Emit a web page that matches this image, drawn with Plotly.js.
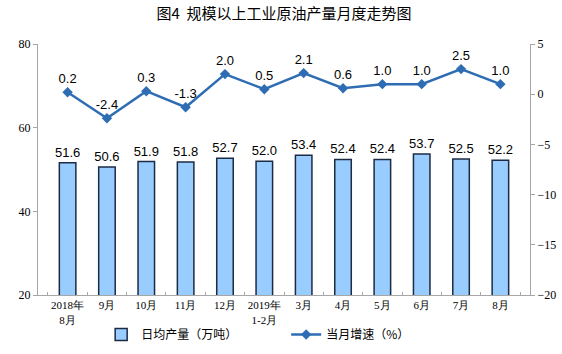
<!DOCTYPE html>
<html>
<head>
<meta charset="utf-8">
<script src="https://cdn.plot.ly/plotly-3.0.1.min.js"></script>
<style>html,body{margin:0;padding:0;background:#fff;}#chart{width:562px;height:354px;}</style>
</head>
<body>
<div id="chart"></div>
<script>
const categories = ["2018年<br>8月","9月","10月","11月","12月","2019年<br>1-2月","3月","4月","5月","6月","7月","8月"];
const dailyOutput = [51.6, 50.6, 51.9, 51.8, 52.7, 52.0, 53.4, 52.4, 52.4, 53.7, 52.5, 52.2];
const growthRate = [0.2, -2.4, 0.3, -1.3, 2.0, 0.5, 2.1, 0.6, 1.0, 1.0, 2.5, 1.0];
const leftTicks = [20, 40, 60, 80];
const rightTicks = [-20, -15, -10, -5, 0, 5];

const sans = "'Liberation Sans', Arial, sans-serif";
const serif = "'Liberation Serif', 'Times New Roman', serif";
const cjk = "'Noto Sans CJK SC', sans-serif";

const traces = [
  {
    type: "bar",
    name: "日均产量（万吨）",
    x: categories,
    y: dailyOutput,
    text: dailyOutput.map(v => v.toFixed(1)),
    textposition: "outside",
    constraintext: "none",
    cliponaxis: false,
    textfont: {family: sans, size: 13, color: "#000"},
    marker: {color: "#99CCFF", line: {color: "#1C2B44", width: 1.5}},
    width: 0.42,
    hoverinfo: "skip"
  },
  {
    type: "scatter",
    mode: "lines+markers+text",
    name: "当月增速（%）",
    x: categories,
    y: growthRate,
    yaxis: "y2",
    text: growthRate.map(v => v.toFixed(1)),
    textposition: "top center",
    cliponaxis: false,
    textfont: {family: sans, size: 13, color: "#000"},
    line: {color: "#2E6DB4", width: 2.5},
    marker: {symbol: "diamond", size: 8, color: "#2E6DB4"},
    hoverinfo: "skip"
  }
];

const layout = {
  width: 562,
  height: 354,
  margin: {l: 38, r: 32, t: 44, b: 59},
  paper_bgcolor: "#fff",
  plot_bgcolor: "#fff",
  showlegend: true,
  title: {
    text: "图4  规模以上工业原油产量月度走势图",
    font: {family: cjk, size: 15, color: "#000"},
    x: 0.5, xanchor: "center", xref: "paper",
    y: 0.96, yanchor: "middle"
  },
  xaxis: {
    type: "category",
    tickangle: 0,
    automargin: false,
    tickfont: {family: serif, size: 11, color: "#000"},
    showline: true, linecolor: "#A6A6A6", linewidth: 1,
    ticks: "inside", ticklen: 3, tickcolor: "#A6A6A6", tickson: "boundaries",
    showgrid: false, zeroline: false, fixedrange: true
  },
  yaxis: {
    range: [20, 80],
    automargin: false,
    tickvals: leftTicks,
    tickfont: {family: serif, size: 12, color: "#000"},
    showline: true, linecolor: "#A6A6A6", linewidth: 1,
    ticks: "outside", ticklen: 4, tickcolor: "#A6A6A6",
    showgrid: false, zeroline: false, fixedrange: true
  },
  yaxis2: {
    overlaying: "y",
    side: "right",
    automargin: false,
    range: [-20, 5],
    tickvals: rightTicks,
    tickfont: {family: serif, size: 12, color: "#000"},
    showline: true, linecolor: "#A6A6A6", linewidth: 1,
    ticks: "outside", ticklen: 4, tickcolor: "#A6A6A6",
    showgrid: false, zeroline: false, fixedrange: true
  },
  legend: {
    orientation: "h",
    xref: "container", yref: "container",
    x: 0.18, xanchor: "left",
    y: 0.055, yanchor: "middle",
    font: {family: cjk, size: 12, color: "#000"},
    entrywidth: 140,
    itemwidth: 30,
    bgcolor: "rgba(0,0,0,0)"
  },
  bargap: 0.58
};

Plotly.newPlot("chart", traces, layout, {displayModeBar: false, staticPlot: true});
</script>
</body>
</html>
